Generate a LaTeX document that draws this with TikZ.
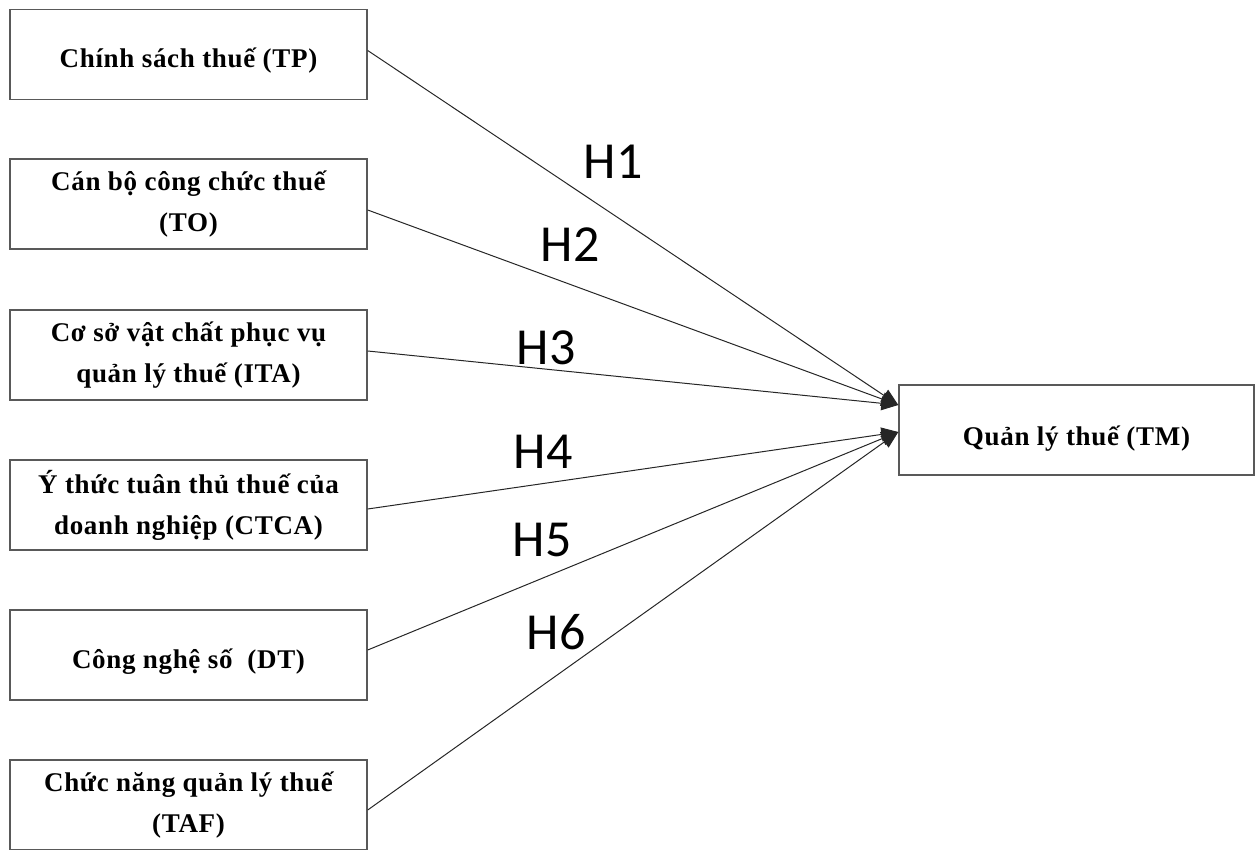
\documentclass[tikz,border=0pt]{standalone}
\usepackage{fontspec}
\setmainfont[LetterSpace=2.5]{Liberation Serif}
\newfontfamily\labelfont{Carlito}
\usetikzlibrary{arrows.meta}

\begin{document}
\begin{tikzpicture}[x=1pt,y=-1pt,
  factor/.style={draw=black!65, line width=1.4pt, rectangle, inner sep=0pt,
    minimum width=357pt, minimum height=90pt, align=center,
    font=\fontsize{27}{41}\selectfont\bfseries},
  single/.style={text height=32pt, text depth=6pt},
  outcome/.style={factor, minimum width=355pt, text height=34pt, text depth=4pt},
  hyp/.style={font=\labelfont\fontsize{52}{52}\selectfont, inner sep=0pt},
  link/.style={draw=black!85, line width=1pt,
    -{Triangle[length=17pt,width=14pt]}}
]
\useasboundingbox (0,0) rectangle (1259,850);

% independent factors
\node[factor,single] (tp)  at (188.5,54.5) {Chính sách thuế (TP)};
\node[factor] (to)  at (188.5,204)  {Cán bộ công chức thuế\\(TO)};
\node[factor] (ita) at (188.5,355)  {Cơ sở vật chất phục vụ\\quản lý thuế (ITA)};
\node[factor] (ctca) at (188.5,505) {Ý thức tuân thủ thuế của\\doanh nghiệp (CTCA)};
\node[factor,single] (dt)  at (188.5,655)  {Công nghệ số\ \ (DT)};
\node[factor] (taf) at (188.5,805)  {Chức năng quản lý thuế\\(TAF)};

% dependent factor
\node[outcome] (tm) at (1076.5,430) {Quản lý thuế (TM)};

% arrow targets on the left side of the outcome box
\coordinate (up) at ([yshift=25pt]tm.west);
\coordinate (lo) at ([yshift=-2pt]tm.west);

% hypothesised paths
\draw[link] ([yshift=4pt]tp.east) -- (up);
\draw[link] ([yshift=-6pt]to.east) -- (up);
\draw[link] ([yshift=4pt]ita.east) -- (up);
\draw[link] ([yshift=-4pt]ctca.east) -- (lo);
\draw[link] ([yshift=5pt]dt.east) -- (lo);
\draw[link] ([yshift=-5pt]taf.east) -- (lo);

% hypothesis labels
\node[hyp] (h1) at (613,162) {H1};
\node[hyp] (h2) at (570,245) {H2};
\node[hyp] (h3) at (546,348) {H3};
\node[hyp] (h4) at (543,452) {H4};
\node[hyp] (h5) at (542,540) {H5};
\node[hyp] (h6) at (556,632) {H6};
\end{tikzpicture}
\end{document}
